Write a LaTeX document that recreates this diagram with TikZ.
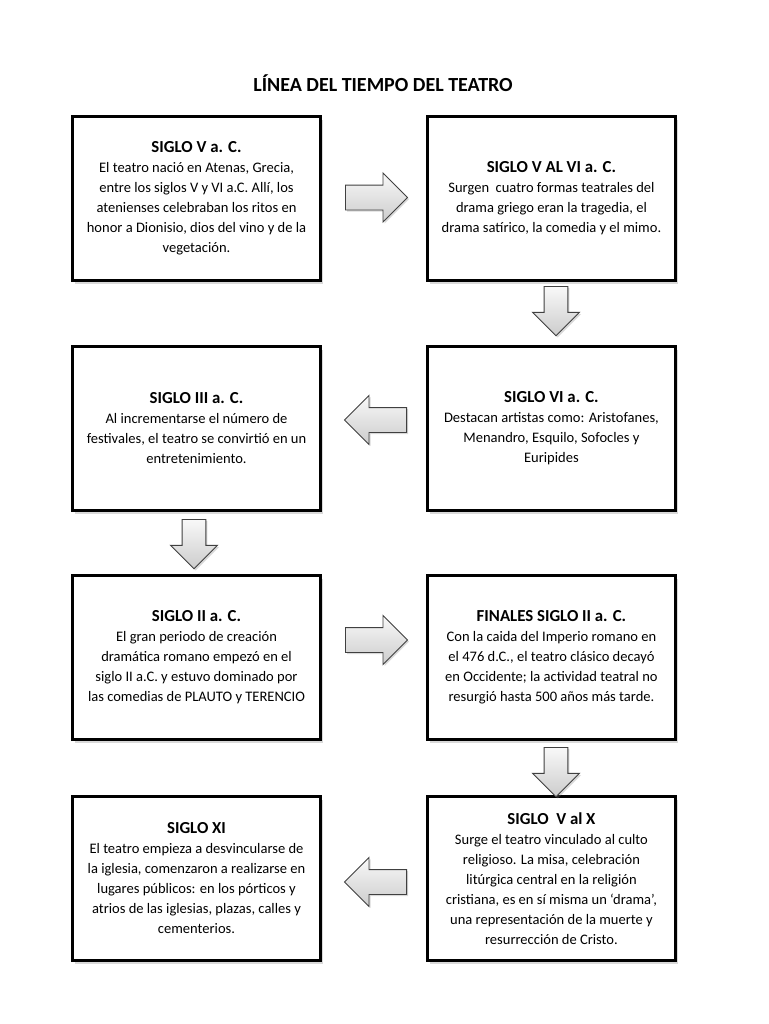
\documentclass[tikz,border=0pt]{standalone}
\usepackage{fontspec}
\setmainfont{Carlito}
\usetikzlibrary{positioning,shapes.arrows,shadows}
\tikzstyle{period} = [rectangle, minimum width=186pt, minimum height=123pt, align=center, draw=black, line width=2.2pt, fill=white, drop shadow={shadow xshift=2.2pt, shadow yshift=-2.8pt, opacity=0.3}, font=\fontsize{10.9pt}{15pt}\selectfont]
\tikzstyle{bigarrow} = [single arrow, draw=black!75, line width=0.7pt, inner sep=9pt, single arrow head extend=9pt, minimum height=46.5pt, top color=gray!5, bottom color=gray!40, drop shadow={shadow xshift=1.2pt, shadow yshift=-1.2pt, opacity=0.3}]
\tikzstyle{downarrow} = [bigarrow, shape border rotate=270, minimum height=37pt, inner sep=8.5pt, single arrow head extend=8.7pt, anchor=tail]
\newcommand{\head}[1]{{\fontsize{12.6pt}{15pt}\selectfont\bfseries #1}}

\begin{document}
\begin{tikzpicture}[x=0.75pt, y=-0.75pt, node distance=78pt]
\useasboundingbox (0,0) rectangle (768,1024);
\node (title) [anchor=base, font=\fontsize{15pt}{18pt}\selectfont\bfseries] at (383,92) {LÍNEA DEL TIEMPO DEL TEATRO};
% first row
\node (sigloV) [period] at (196.5,198.5) {\head{SIGLO V a. C.}\\ El teatro nació en Atenas, Grecia,\\ entre los siglos V y VI a.C. Allí, los\\ atenienses celebraban los ritos en\\ honor a Dionisio, dios del vino y de la\\ vegetación.};
\node (sigloVaVI) [period, right = of sigloV] {\head{SIGLO V AL VI a. C.}\\ Surgen~ cuatro formas teatrales del\\ drama griego eran la tragedia, el\\ drama satírico, la comedia y el mimo.};
% second row
\node (sigloVI) [period, below = 47.25pt of sigloVaVI] {\head{SIGLO VI a. C.}\\ Destacan artistas como: Aristofanes,\\ Menandro, Esquilo, Sofocles y\\ Euripides};
\node (sigloIII) [period, left = of sigloVI] {\head{SIGLO III a. C.}\\ Al incrementarse el número de\\ festivales, el teatro se convirtió en un\\ entretenimiento.};
% third row
\node (sigloII) [period, below = 46.5pt of sigloIII] {\head{SIGLO II a. C.}\\ El gran periodo de creación\\ dramática romano empezó en el\\ siglo II a.C. y estuvo dominado por\\ las comedias de PLAUTO y TERENCIO};
\node (finales) [period, right = of sigloII] {\head{FINALES SIGLO II a. C.}\\ Con la caida del Imperio romano en\\ el 476 d.C., el teatro clásico decayó\\ en Occidente; la actividad teatral no\\ resurgió hasta 500 años más tarde.};
% fourth row
\node (sigloVaX) [period, below = 40.5pt of finales] {\head{SIGLO~ V al X}\\ Surge el teatro vinculado al culto\\ religioso. La misa, celebración\\ litúrgica central en la religión\\ cristiana, es en sí misma un ‘drama’,\\ una representación de la muerte y\\ resurrección de Cristo.};
\node (sigloXI) [period, left = of sigloVaX] {\head{SIGLO XI}\\ El teatro empieza a desvincularse de\\ la iglesia, comenzaron a realizarse en\\ lugares públicos: en los pórticos y\\ atrios de las iglesias, plazas, calles y\\ cementerios.};
% block arrows
\node (a1) [bigarrow, anchor=tail] at (345,197.5) {};
\node (a2) [downarrow] at (556,286) {};
\node (a3) [bigarrow, shape border rotate=180, anchor=tail] at (407,420) {};
\node (a4) [downarrow] at (194,519) {};
\node (a5) [bigarrow, anchor=tail] at (345,640) {};
\node (a6) [downarrow] at (556,747) {};
\node (a7) [bigarrow, shape border rotate=180, anchor=tail] at (407,882) {};
\end{tikzpicture}
\end{document}
